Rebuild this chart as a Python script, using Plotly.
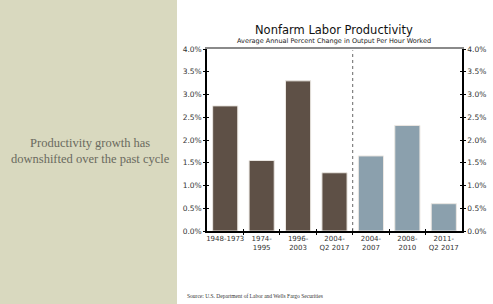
import plotly.graph_objects as go

categories = ["1948-1973", "1974-<br>1995", "1996-<br>2003", "2004-<br>Q2 2017",
              "2004-<br>2007", "2008-<br>2010", "2011-<br>Q2 2017"]
values = [2.75, 1.55, 3.30, 1.28, 1.65, 2.32, 0.60]
group = ["long", "long", "long", "long", "cycle", "cycle", "cycle"]
y_ticks = [0, 0.5, 1.0, 1.5, 2.0, 2.5, 3.0, 3.5, 4.0]
y_tick_labels = ["0.0%", "0.5%", "1.0%", "1.5%", "2.0%", "2.5%", "3.0%", "3.5%", "4.0%"]

BROWN = "#5e5046"
BLUE = "#8ba0ad"
pos = list(range(len(categories)))
boundaries = [p + 0.5 for p in pos[:-1]]

W, H = 493, 304
L, R, T, B = 207, 31, 49, 73
pw, ph = W - L - R, H - T - B

def px_x(x):
    return (x - L) / pw

def px_y(y):
    return (H - B - y) / ph

fig = go.Figure()
for g, col in (("long", BROWN), ("cycle", BLUE)):
    xs = [p for p, gg in zip(pos, group) if gg == g]
    ys = [v for v, gg in zip(values, group) if gg == g]
    fig.add_trace(go.Bar(x=xs, y=ys, marker=dict(color=col, line=dict(color="#ebe7e2", width=1)),
                         width=0.69, showlegend=False, hoverinfo="skip"))

rng = [-0.5, len(categories) - 0.5]
common_y = dict(range=[0, 4], tickvals=y_ticks, ticktext=y_tick_labels,
                showgrid=False, zeroline=False, automargin=False,
                tickfont=dict(family="DejaVu Sans", size=7.5, color="#333"))
plain = dict(showgrid=False, zeroline=False, automargin=False)

fig.update_layout(
    template="none",
    width=W, height=H, margin=dict(l=L, r=R, t=T, b=B, pad=0),
    paper_bgcolor="white", plot_bgcolor="white",
    bargap=0.31,
    xaxis=dict(range=rng, tickvals=pos, ticktext=categories, ticks="", showline=True,
               linecolor="black", linewidth=1.5, **plain,
               tickfont=dict(family="DejaVu Sans", size=7, color="#333")),
    xaxis2=dict(overlaying="x", anchor="y", side="bottom", range=rng, tickvals=boundaries,
                ticks="outside", ticklen=3, tickcolor="black", tickwidth=1,
                showticklabels=False, showline=False, **plain),
    xaxis3=dict(overlaying="x", anchor="y", side="bottom", range=rng, tickvals=boundaries,
                ticks="inside", ticklen=2, tickcolor="black", tickwidth=1,
                showticklabels=False, showline=False, **plain),
    xaxis4=dict(overlaying="x", anchor="y", side="top", range=rng, showticklabels=False,
                ticks="", showline=True, linecolor="#8a8a8a", linewidth=2, **plain),
    yaxis=dict(**common_y, side="left", ticks="outside", ticklen=2, tickcolor="black",
               showline=True, linecolor="black", linewidth=1.5),
    yaxis2=dict(**common_y, overlaying="y", side="right", anchor="x", ticks="outside",
                ticklen=2, tickcolor="black", showline=True, linecolor="black", linewidth=1.5),
    yaxis3=dict(range=[0, 4], tickvals=y_ticks, overlaying="y", side="left", anchor="x",
                ticks="inside", ticklen=2, tickcolor="black", showticklabels=False,
                showline=False, **plain),
    yaxis4=dict(range=[0, 4], tickvals=y_ticks, overlaying="y", side="right", anchor="x",
                ticks="inside", ticklen=2, tickcolor="black", showticklabels=False,
                showline=False, **plain),
)

# invisible traces so the overlay axes are drawn
for xa, ya in (("x2", "y3"), ("x3", "y4"), ("x4", "y2")):
    fig.add_trace(go.Scatter(x=[rng[0]], y=[0], xaxis=xa, yaxis=ya, mode="markers",
                             marker=dict(opacity=0), showlegend=False, hoverinfo="skip"))

# separator between long-run periods and current cycle
fig.add_shape(type="line", xref="x", yref="y", x0=3.5, x1=3.5, y0=0, y1=3.97,
              line=dict(color="#666", width=1, dash="dot"))

# left beige panel
fig.add_shape(type="rect", xref="paper", yref="paper", x0=px_x(0), x1=px_x(177),
              y0=px_y(H), y1=px_y(0), fillcolor="#d9d9bf", line=dict(width=0), layer="below")

fig.add_annotation(xref="paper", yref="paper", x=px_x(90), y=px_y(151),
                   text="Productivity growth has<br>downshifted over the past cycle",
                   showarrow=False, font=dict(family="Liberation Serif", size=12.5, color="#6a6a5e"),
                   align="center", xanchor="center", yanchor="middle")

fig.add_annotation(xref="paper", yref="paper", x=px_x(334), y=px_y(30),
                   text="Nonfarm Labor Productivity", showarrow=False,
                   font=dict(family="DejaVu Sans", size=11.5, color="#111"),
                   xanchor="center", yanchor="middle")
fig.add_annotation(xref="paper", yref="paper", x=px_x(334), y=px_y(41.5),
                   text="Average Annual Percent Change in Output Per Hour Worked", showarrow=False,
                   font=dict(family="DejaVu Sans", size=6.5, color="#222222"),
                   xanchor="center", yanchor="middle")
fig.add_annotation(xref="paper", yref="paper", x=px_x(185), y=px_y(296),
                   text="Source: U.S. Department of Labor and Wells Fargo Securities", showarrow=False,
                   font=dict(family="Liberation Serif", size=5.5, color="#333"),
                   xanchor="left", yanchor="middle")

fig.write_html("out.html", config={"displayModeBar": False},
               post_script="document.body.style.margin='0';document.body.style.overflow='hidden';")
